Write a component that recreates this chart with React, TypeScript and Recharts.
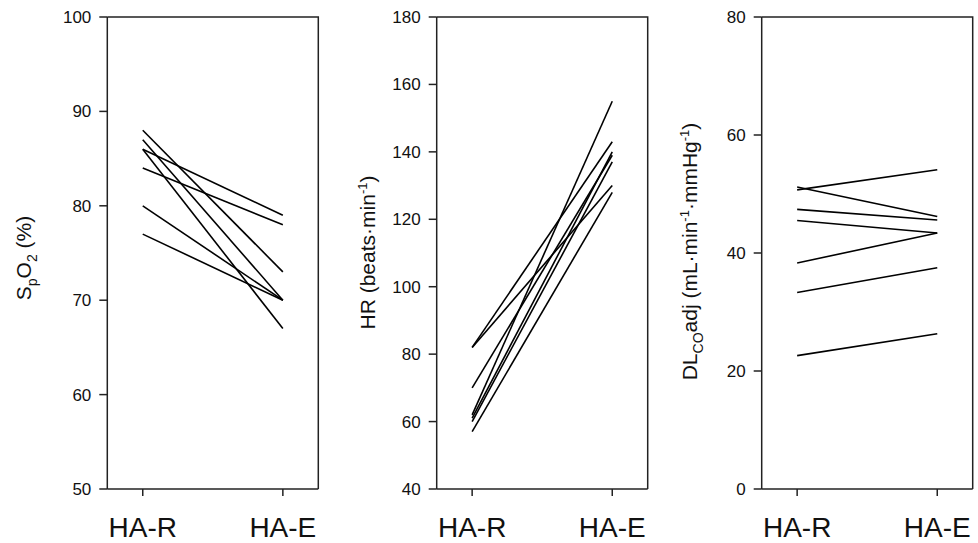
import React from 'react';
import { LineChart, Line, XAxis, YAxis } from 'recharts';

const conditions = ['HA-R', 'HA-E'];

const spo2HAR = [88, 87, 86, 86, 84, 80, 77];
const spo2HAE = [73, 70, 67, 79, 78, 70, 70];
const spo2Ticks = [50, 60, 70, 80, 90, 100];

const hrHAR = [82, 82, 70, 62, 61, 60, 57];
const hrHAE = [143, 130, 139, 155, 140, 137, 128];
const hrTicks = [40, 60, 80, 100, 120, 140, 160, 180];

const dlcoHAR = [50.7, 51.2, 47.4, 45.5, 38.3, 33.3, 22.6];
const dlcoHAE = [54.1, 46.2, 45.6, 43.4, 43.4, 37.5, 26.3];
const dlcoTicks = [0, 20, 40, 60, 80];

const FONT = '"Liberation Sans", Arial, Helvetica, sans-serif';
const AXIS = '#222';
const XDOMAIN: [number, number] = [-0.253, 1.253];
const CHART_H = 543;
const TOP = 17;
const XAXIS_H = 54;

function buildData(a: number[], b: number[]) {
  return [a, b].map((vals, i) => {
    const row: Record<string, number> = { x: i };
    vals.forEach((v, j) => {
      row['s' + j] = v;
    });
    return row;
  });
}

type PanelProps = {
  left: number;
  width: number;
  yAxisWidth: number;
  rightMargin: number;
  har: number[];
  hae: number[];
  ticks: number[];
  label: React.ReactNode;
};

function Panel({ left, width, yAxisWidth, rightMargin, har, hae, ticks, label }: PanelProps) {
  const data = buildData(har, hae);
  const domain: [number, number] = [ticks[0], ticks[ticks.length - 1]];
  const plotLeft = yAxisWidth;
  const plotRight = width - rightMargin;
  const plotBottom = CHART_H - XAXIS_H;
  return (
    <div style={{ position: 'absolute', left, top: 0, width, height: CHART_H }}>
      <LineChart
        width={width}
        height={CHART_H}
        data={data}
        margin={{ top: TOP, right: rightMargin, bottom: 0, left: 0 }}
      >
        <XAxis
          dataKey="x"
          type="number"
          domain={XDOMAIN}
          ticks={[0, 1]}
          tickFormatter={(v: number) => conditions[v]}
          height={XAXIS_H}
          tickSize={7}
          tickMargin={21}
          interval={0}
          axisLine={{ stroke: AXIS, strokeWidth: 1.5 }}
          tickLine={{ stroke: AXIS, strokeWidth: 1.5 }}
          tick={{ fill: '#111', fontSize: 28, fontFamily: FONT }}
        />
        <YAxis
          type="number"
          domain={domain}
          ticks={ticks}
          interval={0}
          width={yAxisWidth}
          tickSize={8}
          tickMargin={8}
          axisLine={{ stroke: AXIS, strokeWidth: 1.5 }}
          tickLine={{ stroke: AXIS, strokeWidth: 1.5 }}
          tick={{ fill: '#111', fontSize: 17, fontFamily: FONT }}
          label={{ content: () => label }}
        />
        {har.map((_, j) => (
          <Line
            key={j}
            type="linear"
            dataKey={'s' + j}
            stroke="#000"
            strokeWidth={1.6}
            dot={false}
            activeDot={false}
            isAnimationActive={false}
          />
        ))}
      </LineChart>
      <svg
        width={width}
        height={CHART_H}
        style={{ position: 'absolute', left: 0, top: 0, pointerEvents: 'none' }}
      >
        <path
          d={`M${plotLeft},${TOP}H${plotRight}V${plotBottom}`}
          fill="none"
          stroke={AXIS}
          strokeWidth={1.5}
        />
      </svg>
    </div>
  );
}

const spo2Label = (
  <text
    transform="translate(30.7,258) rotate(-90)"
    textAnchor="middle"
    fontSize={21}
    fontFamily={FONT}
    fill="#111"
  >
    <tspan>S</tspan>
    <tspan dy={6} fontSize={14}>p</tspan>
    <tspan dy={-6}>O</tspan>
    <tspan dy={6} fontSize={14}>2</tspan>
    <tspan dy={-6}> (%)</tspan>
  </text>
);

const hrLabel = (
  <text
    transform="translate(45,252.5) rotate(-90)"
    textAnchor="middle"
    fontSize={21}
    fontFamily={FONT}
    fill="#111"
  >
    <tspan>HR (beats·min</tspan>
    <tspan dy={-8} fontSize={13}>-1</tspan>
    <tspan dy={8}>)</tspan>
  </text>
);

const dlcoLabel = (
  <text
    transform="translate(47,251.5) rotate(-90)"
    textAnchor="middle"
    fontSize={21}
    fontFamily={FONT}
    fill="#111"
  >
    <tspan>DL</tspan>
    <tspan dy={6} fontSize={14}>CO</tspan>
    <tspan dy={-6}>adj (mL·min</tspan>
    <tspan dy={-8} fontSize={13}>-1</tspan>
    <tspan dy={8}>·mmHg</tspan>
    <tspan dy={-8} fontSize={13}>-1</tspan>
    <tspan dy={8}>)</tspan>
  </text>
);

export default function App() {
  return (
    <div style={{ position: 'absolute', left: 0, top: 0, width: 978, height: 543, background: '#fff' }}>
      <Panel left={0} width={330} yAxisWidth={107.3} rightMargin={11.7} har={spo2HAR} hae={spo2HAE} ticks={spo2Ticks} label={spo2Label} />
      <Panel left={330} width={326} yAxisWidth={106.7} rightMargin={8.3} har={hrHAR} hae={hrHAE} ticks={hrTicks} label={hrLabel} />
      <Panel left={650} width={328} yAxisWidth={111.7} rightMargin={5.3} har={dlcoHAR} hae={dlcoHAE} ticks={dlcoTicks} label={dlcoLabel} />
    </div>
  );
}
